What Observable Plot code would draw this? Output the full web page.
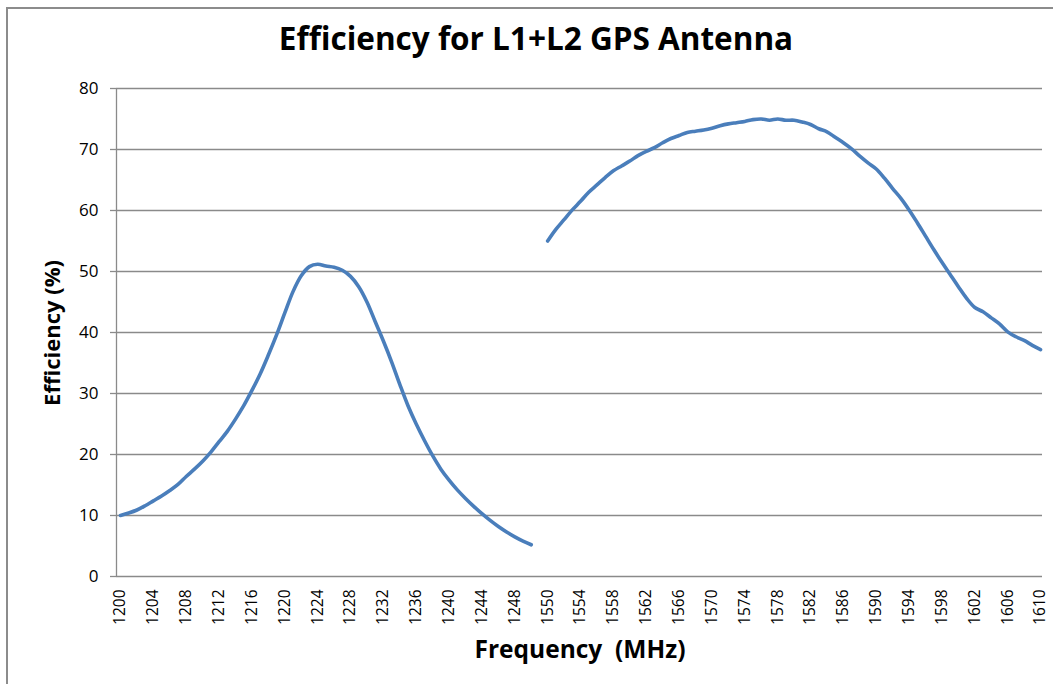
<!DOCTYPE html>
<html>
<head>
<meta charset="utf-8">
<script src="https://cdn.jsdelivr.net/npm/d3@7"></script>
<script src="https://cdn.jsdelivr.net/npm/@observablehq/plot@0.6"></script>
<style>
  html, body { margin: 0; padding: 0; background: #fff; }
  #wrap { position: relative; width: 1053px; height: 684px; overflow: hidden; font-family: "Open Sans", Lato, sans-serif; }
  #border { position: absolute; left: 6px; top: 7px; width: 1200px; height: 800px; border: 2px solid #8c8c8c; box-sizing: border-box; }
  #title { position: absolute; left: 0; top: 16px; width: 1072px; text-align: center; font-weight: bold; font-size: 31.5px; line-height: normal; color: #000; }
  #ytitle { position: absolute; left: 51px; top: 333px; transform: translate(-50%, -50%) rotate(-90deg); font-weight: bold; font-size: 22px; white-space: pre; color: #000; }
  #xtitle { position: absolute; left: 580px; top: 648px; transform: translate(-50%, -50%); font-weight: bold; font-size: 24.5px; white-space: pre; color: #000; }
  #chart { position: absolute; left: 0; top: 0; }
</style>
</head>
<body>
<div id="wrap">
  <div id="border"></div>
  <div id="chart"></div>
  <div id="title">Efficiency for L1+L2 GPS Antenna</div>
  <div id="ytitle">Efficiency (%)</div>
  <div id="xtitle">Frequency  (MHz)</div>
</div>
<script>
// L2 band (MHz) and efficiency (%)
const l2Freq = [1200,1201,1202,1203,1204,1205,1206,1207,1208,1209,1210,1211,1212,1213,1214,1215,1216,1217,1218,1219,1220,1221,1222,1223,1224,1225,1226,1227,1228,1229,1230,1231,1232,1233,1234,1235,1236,1237,1238,1239,1240,1241,1242,1243,1244,1245,1246,1247,1248,1249,1250];
const l2Eff = [10.0,10.4,10.9,11.6,12.4,13.2,14.1,15.1,16.4,17.6,18.9,20.4,22.1,23.8,25.8,28.0,30.5,33.2,36.3,39.6,43.2,46.7,49.3,50.8,51.2,50.9,50.7,50.2,49.2,47.5,45.0,41.8,38.6,35.2,31.5,28.0,25.0,22.3,19.8,17.6,15.8,14.2,12.8,11.5,10.3,9.2,8.2,7.3,6.5,5.8,5.2];
// L1 band (MHz) and efficiency (%)
const l1Freq = [1550,1551,1552,1553,1554,1555,1556,1557,1558,1559,1560,1561,1562,1563,1564,1565,1566,1567,1568,1569,1570,1571,1572,1573,1574,1575,1576,1577,1578,1579,1580,1581,1582,1583,1584,1585,1586,1587,1588,1589,1590,1591,1592,1593,1594,1595,1596,1597,1598,1599,1600,1601,1602,1603,1604,1605,1606,1607,1608,1609,1610];
const l1Eff = [55.0,56.9,58.5,60.1,61.5,63.0,64.2,65.4,66.5,67.3,68.1,69.0,69.7,70.3,71.1,71.8,72.3,72.8,73.0,73.2,73.5,73.9,74.2,74.4,74.6,74.9,75.0,74.8,75.0,74.8,74.8,74.5,74.1,73.4,72.9,72.0,71.1,70.1,68.9,67.8,66.8,65.3,63.6,62.0,60.1,58.0,55.8,53.6,51.5,49.5,47.5,45.6,44.1,43.4,42.4,41.4,40.1,39.3,38.7,37.9,37.2];
const yTicks = [0,10,20,30,40,50,60,70,80];
// category axis: L2 band, one empty slot, L1 band
const categories = [...l2Freq, "", ...l1Freq];
const labelStep = 4;

const rows = [];
l2Freq.forEach((f, i) => rows.push({idx: categories.indexOf(f), freq: f, eff: l2Eff[i], band: "L2"}));
l1Freq.forEach((f, i) => rows.push({idx: categories.indexOf(f), freq: f, eff: l1Eff[i], band: "L1"}));

const tickIdx = categories.map((c, i) => i).filter(i => i % labelStep === 0);
const n = categories.length - 1;
const xDomain = [-0.487, n + 0.24];

const gridColor = "#8a8a8a";

const chart = Plot.plot({
  width: 1053,
  height: 684,
  marginLeft: 116,
  marginRight: 11,
  marginTop: 88,
  marginBottom: 108,
  style: {fontFamily: "'Open Sans', Lato, sans-serif", fontSize: "15px", color: "#000", background: "transparent", overflow: "visible"},
  x: {type: "linear", domain: xDomain},
  y: {domain: [0, 80]},
  marks: [
    Plot.ruleY(yTicks, {stroke: gridColor, strokeWidth: 1.3}),
    Plot.ruleX([xDomain[0]], {stroke: gridColor, strokeWidth: 1.3}),
    Plot.axisY({ticks: yTicks, tickSize: 6, tickPadding: 12, stroke: gridColor, strokeWidth: 1.3, label: null, fill: "#000", fontSize: 17}),
    Plot.axisX({ticks: tickIdx, tickFormat: i => String(categories[i]), tickRotate: -90, tickSize: 0, tickPadding: 13, label: null, fill: "#000", fontSize: 15.5}),
    Plot.line(rows, {x: "idx", y: "eff", z: "band", stroke: "#4a7ebb", strokeWidth: 3.6, curve: "catmull-rom", strokeLinejoin: "round", strokeLinecap: "round"})
  ]
});
document.getElementById("chart").appendChild(chart);
</script>
</body>
</html>
